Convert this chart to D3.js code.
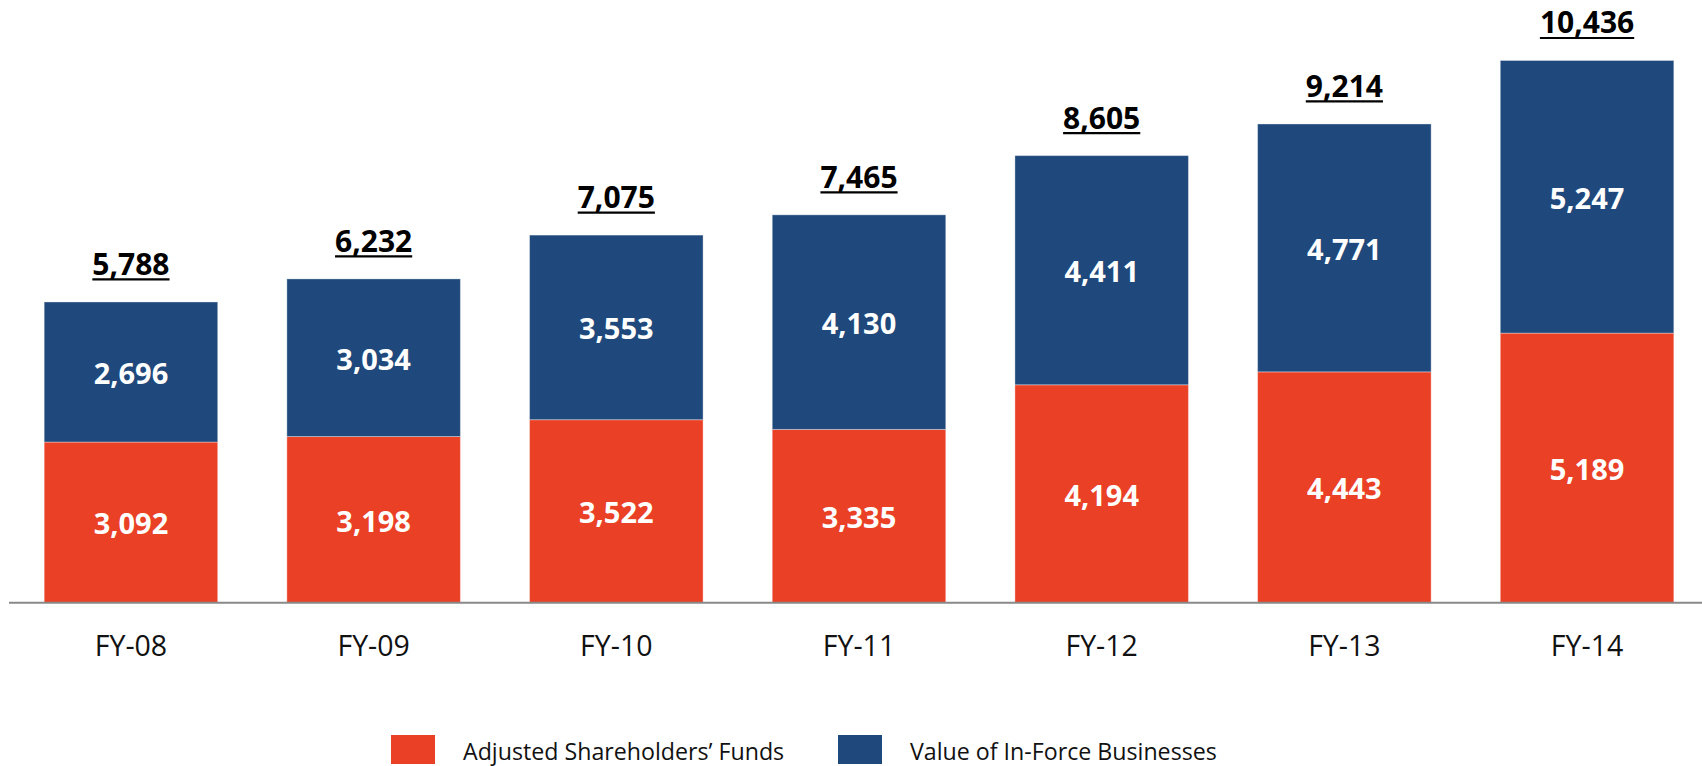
<!DOCTYPE html>
<html>
<head>
<meta charset="utf-8">
<script src="https://cdn.jsdelivr.net/npm/d3@7"></script>
<style>
  html, body { margin: 0; padding: 0; background: #fff; }
  svg { display: block; }
</style>
</head>
<body>
<svg id="chart" width="1702" height="766"></svg>
<script>
const categories = ["FY-08", "FY-09", "FY-10", "FY-11", "FY-12", "FY-13", "FY-14"];
const adjustedFunds = [3092, 3198, 3522, 3335, 4194, 4443, 5189];
const inForceValue = [2696, 3034, 3553, 4130, 4411, 4771, 5247];
const totals = [5788, 6232, 7075, 7465, 8605, 9214, 10436];
const seriesNames = ["Adjusted Shareholders\u2019 Funds", "Value of In-Force Businesses"];
const seriesColors = ["#EA4025", "#1F497C"];

const svg = d3.select("#chart");
const W = 1702;
const fontFamily = "'Open Sans', 'Noto Sans', sans-serif";
const fmt = d3.format(",");

const x = d3.scaleBand().domain(categories).range([9, 1709]).paddingInner(0.285).paddingOuter(0.145);
const y = d3.scaleLinear().domain([0, 11600]).range([602.7, 0]);

const rows = categories.map((c, i) => ({ cat: c, a: adjustedFunds[i], b: inForceValue[i], t: totals[i] }));
const stack = d3.stack().keys(["a", "b"])(rows);

const g = svg.append("g");
stack.forEach((layer, li) => {
  g.selectAll(null).data(layer).enter().append("rect")
    .attr("x", d => x(d.data.cat))
    .attr("width", x.bandwidth())
    .attr("y", d => y(d[1]))
    .attr("height", d => y(d[0]) - y(d[1]))
    .attr("fill", seriesColors[li])
    .attr("stroke", "rgba(255,255,255,0.35)")
    .attr("stroke-width", 1);
  g.selectAll(null).data(layer).enter().append("text")
    .attr("x", d => x(d.data.cat) + x.bandwidth() / 2)
    .attr("y", d => (y(d[0]) + y(d[1])) / 2 + 12)
    .attr("text-anchor", "middle")
    .attr("font-family", fontFamily)
    .attr("font-weight", "bold")
    .attr("font-size", 29)
    .attr("fill", "#fff")
    .text(d => fmt(d[1] - d[0]));
});

// axis baseline
const axis = d3.axisBottom(x).tickSize(0).tickPadding(0);
const ax = svg.append("g").attr("transform", `translate(0,${y(0)})`).call(axis);
ax.select(".domain").remove();
ax.append("line").attr("x1", 9).attr("x2", W).attr("y1", 0).attr("y2", 0)
  .attr("stroke", "#898989").attr("stroke-width", 2);
ax.selectAll(".tick text")
  .attr("y", 53.5)
  .attr("dy", null)
  .attr("font-family", fontFamily)
  .attr("font-size", 28.5)
  .attr("fill", "#111");

// totals with underline
const tot = svg.append("g").selectAll("g").data(rows).enter().append("g");
tot.append("text")
  .attr("x", d => x(d.cat) + x.bandwidth() / 2)
  .attr("y", d => y(d.t) - 27)
  .attr("text-anchor", "middle")
  .attr("font-family", fontFamily)
  .attr("font-weight", "bold")
  .attr("font-size", 30)
  .attr("fill", "#000")
  .text(d => fmt(d.t));
tot.each(function(d) {
  const t = d3.select(this).select("text").node();
  const bb = t.getBBox();
  d3.select(this).append("line")
    .attr("x1", bb.x).attr("x2", bb.x + bb.width)
    .attr("y1", y(d.t) - 22.5).attr("y2", y(d.t) - 22.5)
    .attr("stroke", "#000").attr("stroke-width", 2.2);
});

// legend
const legendX = [391, 838];
const lg = svg.append("g").selectAll("g").data(seriesNames).enter().append("g")
  .attr("transform", (d, i) => `translate(${legendX[i]},735)`);
lg.append("rect").attr("width", 44).attr("height", 29).attr("fill", (d, i) => seriesColors[i]);
lg.append("text").attr("x", 72).attr("y", 25)
  .attr("font-family", fontFamily).attr("font-size", 23.2).attr("fill", "#111")
  .text(d => d);
</script>
</body>
</html>
